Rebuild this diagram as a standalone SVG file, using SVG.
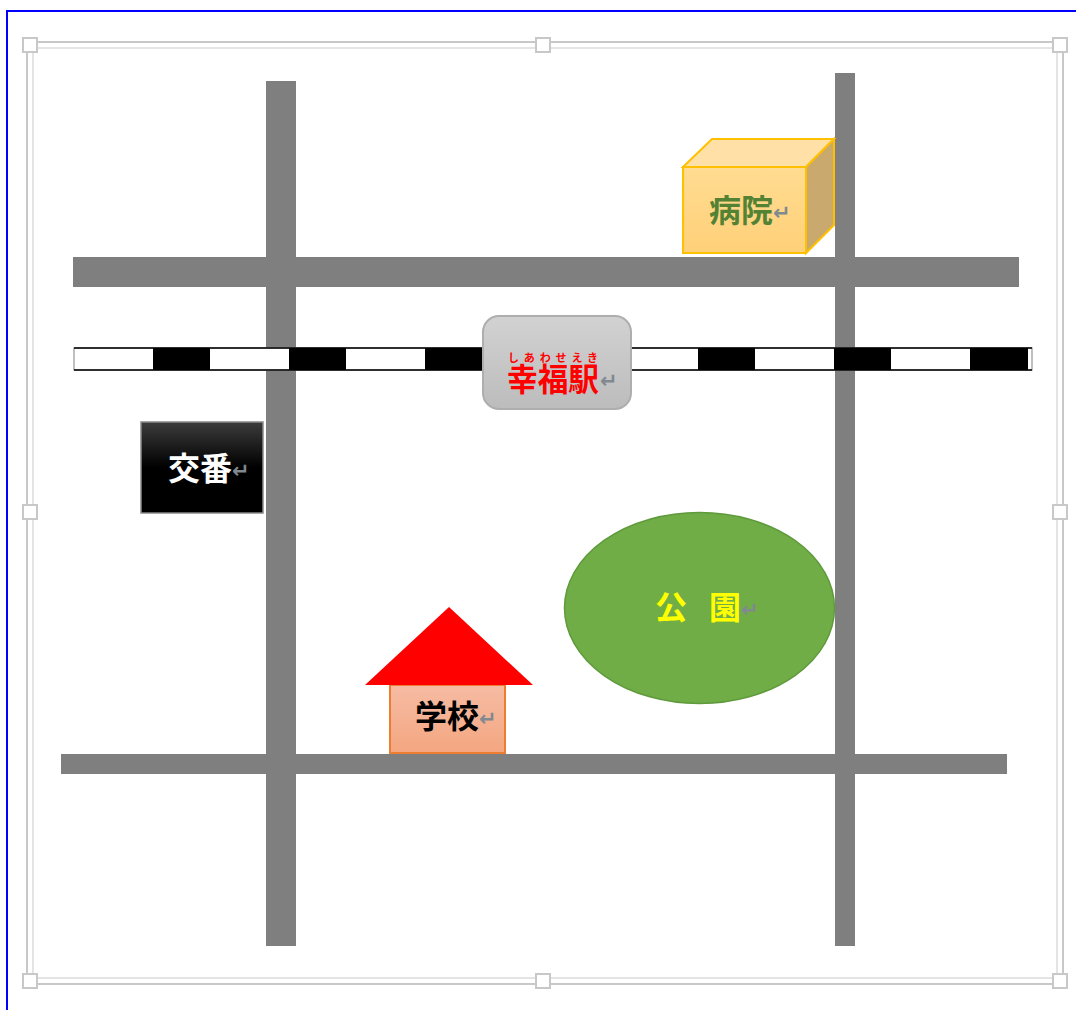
<svg xmlns="http://www.w3.org/2000/svg" width="1076" height="1010" viewBox="0 0 1076 1010">
<style>
.road{fill:#7f7f7f}
.b{fill:#000}
.t{font-family:"Noto Sans CJK JP","Noto Sans CJK SC",sans-serif;font-size:32px;font-weight:700}
.r{font-family:"DejaVu Sans",sans-serif;font-size:21px;font-weight:700;fill:#808890}
.h{fill:#fff;stroke:#c8c8c8;stroke-width:2}
</style>
<defs>
<linearGradient id="gs" x1="0" y1="0" x2="0" y2="1"><stop offset="0" stop-color="#d2d2d2"/><stop offset="1" stop-color="#bcbcbc"/></linearGradient>
<linearGradient id="gp" x1="0" y1="0" x2="0" y2="1"><stop offset="0" stop-color="#3c3c3c"/><stop offset="0.5" stop-color="#000"/><stop offset="1" stop-color="#000"/></linearGradient>
<linearGradient id="gh" x1="0" y1="0" x2="0" y2="1"><stop offset="0" stop-color="#ffdc92"/><stop offset="1" stop-color="#ffd078"/></linearGradient>
<linearGradient id="gc" x1="0" y1="0" x2="0" y2="1"><stop offset="0" stop-color="#f6bca4"/><stop offset="1" stop-color="#f4a680"/></linearGradient>
</defs>
<rect width="1076" height="1010" fill="#fff"/>
<path d="M7 1010V11H1076" fill="none" stroke="#0000ff" stroke-width="2"/>
<g id="frame">
<rect x="27" y="42" width="1036" height="942" fill="none" stroke="#c8c8c8" stroke-width="2"/>
<rect x="33" y="48" width="1024" height="930" fill="none" stroke="#e4e4e4" stroke-width="2"/>
<rect class="h" x="23" y="38" width="14" height="14"/>
<rect class="h" x="536" y="38" width="14" height="14"/>
<rect class="h" x="1053" y="38" width="14" height="14"/>
<rect class="h" x="23" y="505" width="14" height="14"/>
<rect class="h" x="1053" y="505" width="14" height="14"/>
<rect class="h" x="23" y="974" width="14" height="14"/>
<rect class="h" x="536" y="974" width="14" height="14"/>
<rect class="h" x="1053" y="974" width="14" height="14"/>
</g>
<g id="connectors">
<rect class="road" x="73" y="257" width="946" height="30"/>
<rect class="road" x="61" y="754" width="946" height="20"/>
<rect class="road" x="835" y="73" width="20" height="873"/>
<rect class="road" x="266" y="81" width="30" height="865"/>
<g id="railway">
<rect x="74" y="348" width="958" height="22" fill="#fff" stroke="#aaa" stroke-width="1.5"/>
<path d="M74 348H1032M74 370H1032" stroke="#000" stroke-width="1.6" fill="none"/>
<rect class="b" x="153" y="348" width="57" height="22"/>
<rect class="b" x="289" y="348" width="57" height="22"/>
<rect class="b" x="425" y="348" width="58" height="22"/>
<rect class="b" x="698" y="348" width="57" height="22"/>
<rect class="b" x="834" y="348" width="57" height="22"/>
<rect class="b" x="970" y="348" width="58" height="22"/>
</g>
</g>
<g id="hospital">
<path d="M683 167L712 139H834L806 167Z" fill="#ffe0a6" stroke="#ffc000" stroke-width="2"/>
<path d="M806 167L834 139V225L806 253Z" fill="#c9a96e" stroke="#ffc000" stroke-width="2"/>
<rect x="683" y="167" width="123" height="86" fill="url(#gh)" stroke="#ffc000" stroke-width="2"/>
<text class="t" x="709" y="222" fill="#548235">病院</text>
<text class="r" x="773" y="220">↵</text>
</g>
<g id="station">
<rect x="483" y="316" width="148" height="93" rx="16" fill="url(#gs)" stroke="#aeaeae" stroke-width="2"/>
<text x="508" y="362" fill="#f00" font-family="'Noto Sans CJK JP',sans-serif" font-size="11" font-weight="700" textLength="90">しあわせえき</text>
<text class="t" x="507" y="391" fill="#f00" textLength="92" lengthAdjust="spacingAndGlyphs">幸福駅</text>
<text class="r" x="600" y="388">↵</text>
</g>
<g id="police">
<rect x="141" y="422" width="122" height="91" fill="url(#gp)" stroke="#8a8a8a" stroke-width="1.5"/>
<text class="t" x="168" y="480" fill="#fff">交番</text>
<text class="r" x="232" y="478">↵</text>
</g>
<g id="park">
<ellipse cx="699.5" cy="608" rx="135" ry="95.5" fill="#70ad47" stroke="#5f9a3c" stroke-width="1.5"/>
<text class="t" x="655 709" y="619" fill="#ff0">公園</text>
<text class="r" x="741" y="617">↵</text>
</g>
<g id="school">
<rect x="390" y="685" width="115" height="68" fill="url(#gc)" stroke="#ed7d31" stroke-width="2"/>
<path d="M449 607L533 685H365Z" fill="#f00"/>
<text class="t" x="415" y="728" fill="#000">学校</text>
<text class="r" x="479" y="726">↵</text>
</g>
</svg>
